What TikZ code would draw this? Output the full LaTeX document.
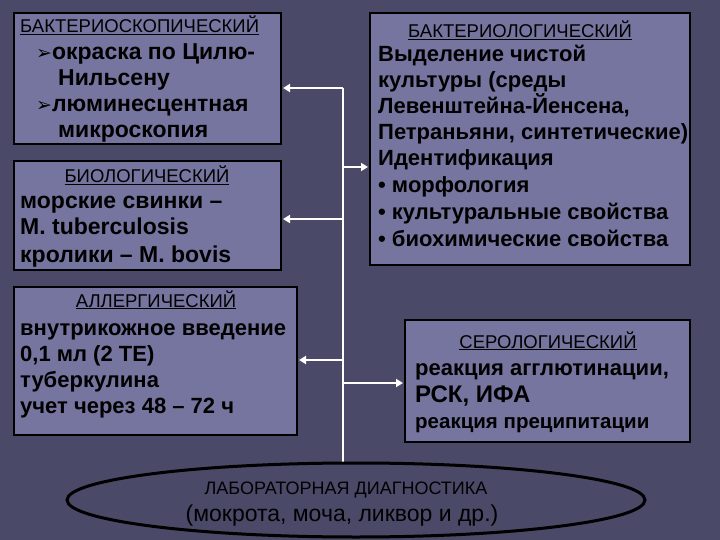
\documentclass[tikz,border=0pt]{standalone}
\usepackage{fontspec}
\setmainfont{Liberation Sans}
\newfontfamily\djfont{DejaVu Sans}
\usetikzlibrary{arrows.meta,shapes.geometric}
\definecolor{bg}{HTML}{4A4968}
\definecolor{boxc}{HTML}{7675A0}
\begin{document}
\begin{tikzpicture}[x=1pt,y=-1pt,
  box/.style={draw=black,line width=2.5pt,fill=boxc},
  t/.style={anchor=base west,inner sep=0pt,font=\bfseries\fontsize{23}{24}\selectfont},
  h/.style={anchor=base,inner sep=0pt,font=\fontsize{18.5}{20}\selectfont},
  conn/.style={draw=white,line width=2.2pt},
  arr/.style={conn,-{Triangle[length=7pt,width=8pt]}}]
\fill[bg] (0,0) rectangle (720,540);
\useasboundingbox (0,0) rectangle (720,540);
\draw[box] (14,13) rectangle (281,144);
\draw[box] (14,161) rectangle (281,270);
\draw[box] (14,287) rectangle (297,435);
\draw[box] (370,13) rectangle (690,265);
\draw[box] (405,320) rectangle (690,442);
% connectors
\coordinate (top) at (343,88);
\coordinate (bot) at (343,465);
\draw[conn] (top) -- (bot);
\coordinate (a1) at (343,88); \coordinate (b1) at (283,88);
\coordinate (a2) at (343,167); \coordinate (b2) at (368,167);
\coordinate (a3) at (343,219); \coordinate (b3) at (283,219);
\coordinate (a4) at (343,360); \coordinate (b4) at (299,360);
\coordinate (a5) at (343,383); \coordinate (b5) at (403,383);
\draw[arr] (a1) -- (b1);
\draw[arr] (a2) -- (b2);
\draw[arr] (a3) -- (b3);
\draw[arr] (a4) -- (b4);
\draw[arr] (a5) -- (b5);
\node[draw=black,line width=3pt,fill=bg,ellipse,minimum width=578,minimum height=74] (el) at (356,500) {};
% box1
\node[h,anchor=base west] (h1) at (20,33) {\underline{БАКТЕРИОСКОПИЧЕСКИЙ}};
\node[t] (l11) at (36,60) {{\djfont\mdseries\fontsize{19}{19}\selectfont ➢}окраска по Цилю-};
\node[t] (l12) at (58,86) {Нильсену};
\node[t] (l13) at (36,112) {{\djfont\mdseries\fontsize{19}{19}\selectfont ➢}люминесцентная};
\node[t] (l14) at (58,138) {микроскопия};
% box2
\node[h] (h2) at (147,183) {\underline{БИОЛОГИЧЕСКИЙ}};
\node[t] (l21) at (20,209) {морские свинки –};
\node[t] (l22) at (20,235) {M. tuberculosis};
\node[t] (l23) at (20,262) {кролики – M. bovis};
% box3
\node[h] (h3) at (156,307) {\underline{АЛЛЕРГИЧЕСКИЙ}};
\node[t,font=\bfseries\fontsize{22}{24}\selectfont] (l31) at (20,335) {внутрикожное введение};
\node[t,font=\bfseries\fontsize{22}{24}\selectfont] (l32) at (20,361) {0,1 мл (2 ТЕ)};
\node[t,font=\bfseries\fontsize{22}{24}\selectfont] (l33) at (20,387) {туберкулина};
\node[t,font=\bfseries\fontsize{22}{24}\selectfont] (l34) at (20,413) {учет через 48 – 72 ч};
% box4
\node[h] (h4) at (520,38) {\underline{БАКТЕРИОЛОГИЧЕСКИЙ}};
\node[t,font=\bfseries\fontsize{22}{24}\selectfont] (l41) at (378,62) {Выделение чистой};
\node[t,font=\bfseries\fontsize{22}{24}\selectfont] (l42) at (378,88) {культуры (среды};
\node[t,font=\bfseries\fontsize{22}{24}\selectfont] (l43) at (378,114) {Левенштейна-Йенсена,};
\node[t,font=\bfseries\fontsize{22}{24}\selectfont] (l44) at (378,140) {Петраньяни, синтетические)};
\node[t,font=\bfseries\fontsize{22}{24}\selectfont] (l45) at (378,166) {Идентификация};
\node[t,font=\bfseries\fontsize{22}{24}\selectfont] (l46) at (378,193) {• морфология};
\node[t,font=\bfseries\fontsize{22}{24}\selectfont] (l47) at (378,220) {• культуральные свойства};
\node[t,font=\bfseries\fontsize{22}{24}\selectfont] (l48) at (378,247) {• биохимические свойства};
% box5
\node[h] (h5) at (548,348) {\underline{СЕРОЛОГИЧЕСКИЙ}};
\node[t,font=\bfseries\fontsize{22}{24}\selectfont] (l51) at (415,375) {реакция агглютинации,};
\node[t,font=\bfseries\fontsize{24}{26}\selectfont] (l52) at (415,402) {РСК, ИФА};
\node[t,font=\bfseries\fontsize{20.5}{24}\selectfont] (l53) at (415,428) {реакция преципитации};
% ellipse text
\node[h,font=\fontsize{18}{20}\selectfont] (e1) at (346,494) {ЛАБОРАТОРНАЯ ДИАГНОСТИКА};
\node[h,font=\fontsize{23}{24}\selectfont] (e2) at (342,521) {(мокрота, моча, ликвор и др.)};
\end{tikzpicture}
\end{document}
